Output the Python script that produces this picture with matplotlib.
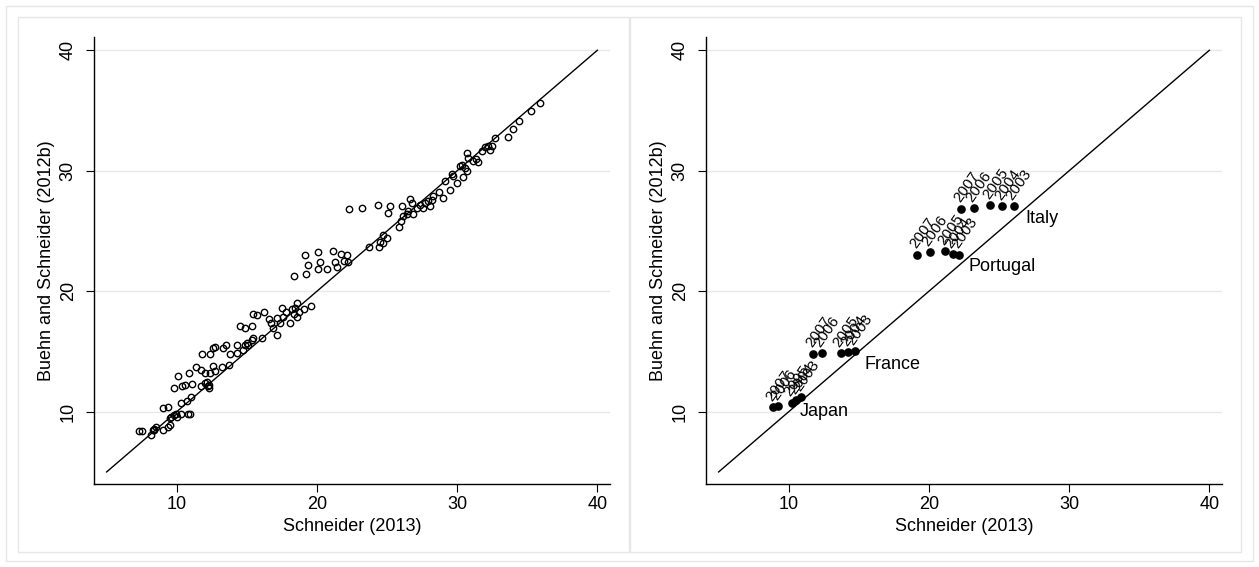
import matplotlib.pyplot as plt
from matplotlib.patches import Rectangle

plt.rcParams["font.family"] = ["Liberation Sans", "DejaVu Sans"]

# Left panel: all country-years, Schneider (2013) vs Buehn and Schneider (2012b)
schneider = [
    7.3, 7.5, 8.2, 8.3, 8.5, 8.35, 8.4, 9.0, 9.4, 9.5, 9.5, 9.6, 9.8, 9.95, 10.05,
    10.3, 10.8, 10.95, 9.0, 9.4, 10.3, 10.7, 11.0, 9.8, 10.4, 10.6, 11.1, 11.7,
    10.1, 10.9, 12.0, 12.15, 12.3, 12.3, 12.2, 11.4, 11.7, 12.05, 12.4, 12.6,
    12.75, 13.2, 13.7, 11.8, 12.4, 12.6, 12.75, 13.3, 13.5, 13.8, 14.3, 14.3,
    14.7, 14.85, 15.0, 15.1, 15.4, 15.45, 16.1,
    14.5, 14.9, 15.4, 15.45, 15.7, 16.2, 16.6, 16.7, 16.9, 17.15, 17.15, 17.35,
    17.5, 17.6, 17.8, 18.05, 18.2, 18.35, 18.45, 18.55, 18.6, 18.7, 19.1, 19.55,
    18.35, 19.25, 19.15, 19.35, 20.05, 20.2, 20.1, 20.7, 21.15, 21.3, 21.4,
    21.7, 21.9, 22.15, 22.2,
    22.3, 23.2, 24.35, 25.2, 25.1, 26.05,
    23.7, 24.45, 24.5, 24.7, 25.0, 24.7,
    25.85, 26.03, 26.15, 26.39, 26.51, 26.67, 26.75, 26.87, 27.11, 27.34,
    27.57, 27.70, 27.89, 28.05, 28.18, 28.29, 28.72, 29.0, 29.12, 29.48,
    29.6, 29.72, 30.0, 30.2, 30.32, 30.42, 30.55, 30.67, 30.71, 30.78,
    31.14, 31.34, 31.5, 31.75, 31.97, 32.21, 32.33, 32.52, 32.69, 33.59,
    33.99, 34.41, 35.3, 35.89,
]
buehn = [
    8.4, 8.4, 8.1, 8.5, 8.7, 8.45, 8.6, 8.5, 8.7, 8.9, 9.5, 9.6, 9.75, 9.8, 9.6,
    9.8, 9.8, 9.8, 10.3, 10.4, 10.7, 10.9, 11.2, 12.0, 12.1, 12.2, 12.3, 12.1,
    13.0, 13.2, 12.4, 12.5, 12.2, 12.0, 12.1, 13.7, 13.5, 13.2, 13.2, 13.8,
    13.35, 13.7, 13.9, 14.75, 14.8, 15.3, 15.4, 15.3, 15.5, 14.8, 14.85, 15.5,
    15.15, 15.55, 15.7, 15.55, 15.95, 16.1, 16.1,
    17.1, 16.95, 17.1, 18.1, 18.0, 18.3, 17.7, 17.4, 16.95, 16.4, 17.8, 17.4,
    18.6, 17.9, 18.3, 17.4, 18.5, 18.1, 18.6, 17.9, 19.05, 18.3, 18.5, 18.75,
    21.3, 21.4, 23.04, 22.2, 23.23, 22.4, 21.85, 21.85, 23.31, 22.45, 21.98,
    23.1, 22.5, 23.04, 22.45,
    26.86, 26.92, 27.13, 27.05, 26.5, 27.05,
    23.7, 23.7, 24.1, 24.7, 24.4, 24.0,
    25.34, 25.81, 26.22, 26.45, 26.64, 27.67, 27.33, 26.45, 26.92, 27.19,
    26.92, 27.33, 27.47, 27.11, 27.55, 27.88, 28.21, 27.75, 29.13, 28.44,
    29.77, 29.54, 29.0, 30.37, 30.51, 29.49, 30.24, 31.49, 29.96, 31.07,
    30.79, 30.99, 30.71, 31.62, 31.99, 32.09, 31.76, 32.03, 32.73, 32.82,
    33.48, 34.11, 34.94, 35.64,
]

# Right panel: selected countries, 2003-2007
countries = ["Japan", "France", "Portugal", "Italy"]
years = ["2007", "2006", "2005", "2004", "2003"]
country_x = {
    "Japan": [8.9, 9.25, 10.2, 10.55, 10.9],
    "France": [11.75, 12.35, 13.7, 14.25, 14.7],
    "Portugal": [19.15, 20.05, 21.15, 21.7, 22.15],
    "Italy": [22.3, 23.2, 24.35, 25.2, 26.05],
}
country_y = {
    "Japan": [10.35, 10.45, 10.75, 10.95, 11.2],
    "France": [14.82, 14.88, 14.88, 14.93, 15.0],
    "Portugal": [23.04, 23.23, 23.31, 23.1, 23.04],
    "Italy": [26.86, 26.92, 27.13, 27.05, 27.05],
}
# offset (points) of the country name from its 2003 marker
name_offset = {"Japan": (-1.5, -10.5), "France": (7, -9.5),
               "Portugal": (7, -8.5), "Italy": (8.5, -9)}

ticks = [10, 20, 30, 40]
GRID = "#e8e8e8"
FS = 13


def style_axes(ax):
    ax.set_xlim(4.1, 40.9)
    ax.set_ylim(4.0, 41.1)
    ax.set_xticks(ticks)
    ax.set_yticks(ticks)
    for side in ("top", "right"):
        ax.spines[side].set_visible(False)
    for side in ("left", "bottom"):
        ax.spines[side].set_linewidth(1.0)
    ax.tick_params(direction="out", length=5.5, width=0.8, labelsize=FS, pad=3)
    ax.tick_params(axis="y", labelrotation=90, pad=7)
    for lab in ax.get_yticklabels():
        lab.set_va("center")
    ax.grid(axis="y", color=GRID, linewidth=1.0)
    ax.set_axisbelow(True)
    ax.plot([5, 40], [5, 40], color="black", linewidth=1.0, zorder=2)
    ax.set_xlabel("Schneider (2013)", fontsize=FS, labelpad=4)
    ax.set_ylabel("Buehn and Schneider (2012b)", fontsize=FS, labelpad=3)


fig = plt.figure(figsize=(12.59, 5.67), dpi=100)
W, H = 1259, 567

# light frames around the whole graph and each panel
for x0, y0, x1, y1 in [(6, 6, 1253, 561), (18, 17, 629, 552), (630, 17, 1241, 552)]:
    fig.patches.append(Rectangle((x0 / W, 1 - y1 / H), (x1 - x0) / W, (y1 - y0) / H,
                                 transform=fig.transFigure, fill=False,
                                 edgecolor="#e6e6e6", linewidth=1.0))

ax1 = fig.add_axes([94 / W, 1 - 484 / H, 516 / W, 447 / H])
ax2 = fig.add_axes([706 / W, 1 - 484 / H, 516 / W, 447 / H])

style_axes(ax1)
ax1.plot(schneider, buehn, linestyle="none", marker="o", markersize=4.6,
         markerfacecolor="none", markeredgecolor="black", markeredgewidth=1.0,
         zorder=3)

style_axes(ax2)
for c in countries:
    xs, ys = country_x[c], country_y[c]
    ax2.plot(xs, ys, linestyle="none", marker="o", markersize=5.2,
             color="black", zorder=3)
    for x, y, yr in zip(xs, ys, years):
        ax2.annotate(yr, (x, y), xytext=(1, 2.5), textcoords="offset points",
                     rotation=55, rotation_mode="anchor", ha="left",
                     va="bottom", fontsize=11)
    ax2.annotate(c, (xs[-1], ys[-1]), xytext=name_offset[c],
                 textcoords="offset points", ha="left", va="center",
                 fontsize=FS)

fig.savefig("out.png", dpi=100)
